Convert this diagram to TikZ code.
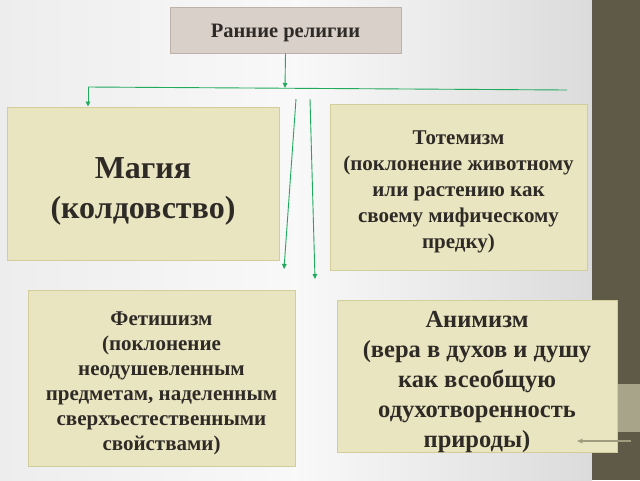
\documentclass[tikz,border=0pt]{standalone}
\usepackage{fontspec}
\setmainfont{Liberation Serif}
\usetikzlibrary{arrows.meta}
\definecolor{txt}{HTML}{2E2A26}
\definecolor{boxfill}{HTML}{E9E5C1}
\definecolor{boxline}{HTML}{D3CD9C}
\definecolor{titlefill}{HTML}{D9D0CA}
\definecolor{titleline}{HTML}{BFB1A9}
\definecolor{conn}{HTML}{1FAA5C}
\definecolor{strip}{HTML}{5F5A47}
\definecolor{stripl}{HTML}{A8A48A}
\definecolor{grayarrow}{HTML}{A09C80}
\tikzset{
  infobox/.style={draw=boxline, line width=1pt, fill=boxfill, inner sep=0pt},
  titlebox/.style={draw=titleline, line width=1pt, fill=titlefill, inner sep=0pt},
  boxtext/.style={text=txt, align=center, inner sep=0pt},
  link/.style={draw=conn, line width=0.9pt},
  linkarrow/.style={link, -{Triangle[length=5pt,width=4.5pt]}},
}
\begin{document}
\begin{tikzpicture}[x=1pt,y=-1pt]
\useasboundingbox (0,0) rectangle (640,480);
% background
\shade[left color=gray!14, right color=gray!28, middle color=white!95!gray] (0,0) rectangle (592,480);
\fill[strip] (592,0) rectangle (640,480);
\fill[stripl] (592,384) rectangle (640,432);
% boxes
\node[titlebox, minimum width=231pt, minimum height=46pt] (title) at (285.5,30) {};
\node[boxtext, font=\bfseries\fontsize{20.5}{24}\selectfont] (titletext) at ([yshift=-3pt]title.center) {Ранние религии};
\node[infobox, minimum width=272pt, minimum height=153pt] (magic) at (143,183.5) {};
\node[boxtext, font=\bfseries\fontsize{32}{40}\selectfont] (magictext) at ([yshift=-8pt]magic.center) {Магия\\(колдовство)};
\node[infobox, minimum width=257pt, minimum height=166pt] (totem) at (458.5,187) {};
\node[boxtext, font=\bfseries\fontsize{21}{26}\selectfont] (totemtext) at ([yshift=-5pt]totem.center) {Тотемизм\\(поклонение животному\\или растению как\\своему мифическому\\предку)};
\node[infobox, minimum width=267pt, minimum height=176pt] (fetish) at (161.5,378) {};
\node[boxtext, font=\bfseries\fontsize{21}{25}\selectfont] (fetishtext) at ([yshift=-5pt]fetish.center) {Фетишизм\\(поклонение\\неодушевленным\\предметам, наделенным\\сверхъестественными\\свойствами)};
\node[infobox, minimum width=280pt, minimum height=152pt] (anim) at (477,376) {};
\node[boxtext, font=\bfseries\fontsize{24.5}{30}\selectfont] (animtext) at ([yshift=-6.5pt]anim.center) {Анимизм\\(вера в духов и душу\\как всеобщую\\одухотворенность\\природы)};
% connectors
\coordinate (hmid) at (285,88);
\coordinate (hl) at (88,87);
\coordinate (hr) at (567,90);
\coordinate (s1a) at (296,99);
\coordinate (s1b) at (284,269);
\coordinate (s2a) at (310,99);
\coordinate (s2b) at (315,279);
\draw[link] (hl) -- (hr);
\draw[linkarrow] (title.south) -- (hmid);
\draw[linkarrow] (hl) -- (hl |- magic.north);
\draw[linkarrow] (s1a) -- (s1b);
\draw[linkarrow] (s2a) -- (s2b);
\coordinate (ga) at (631,441);
\coordinate (gb) at (577,441);
\draw[draw=grayarrow, line width=1.5pt, -{Stealth[length=6pt,width=5pt]}] (ga) -- (gb);
\end{tikzpicture}
\end{document}
